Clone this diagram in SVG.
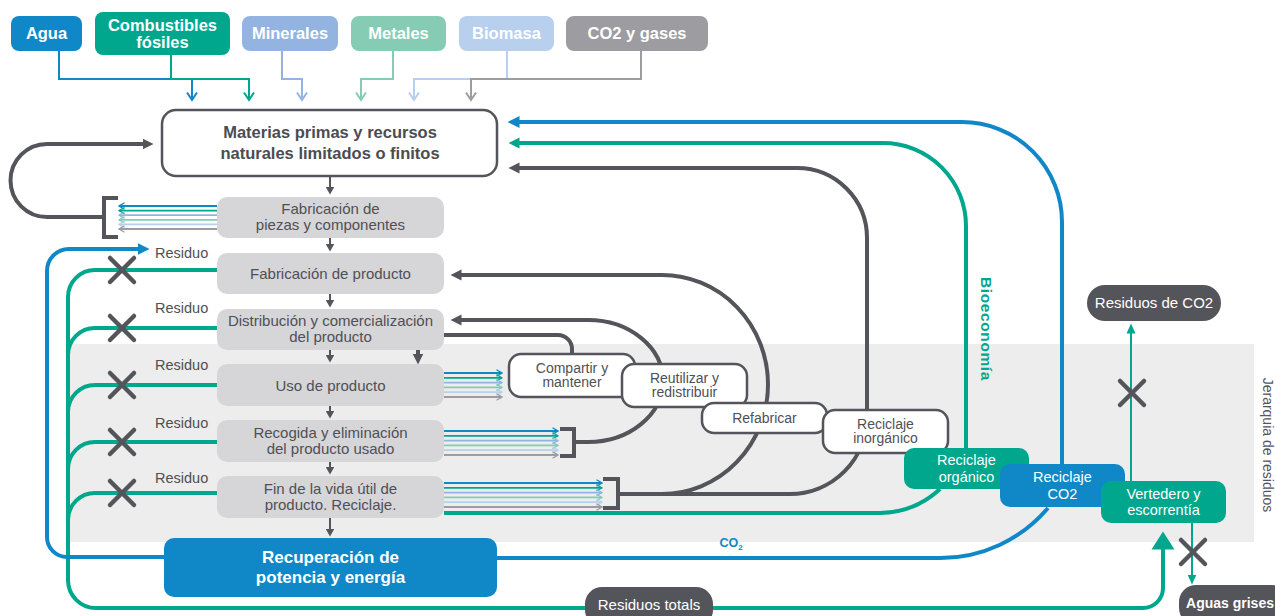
<svg xmlns="http://www.w3.org/2000/svg" width="1275" height="616" viewBox="0 0 1275 616">
<style>
text{font-family:"Liberation Sans",Arial,sans-serif;text-anchor:middle}
.tag{font-size:16.5px;font-weight:bold;fill:#fff}
.gb{fill:#D6D5D8}
.gt{font-size:15px;fill:#4F5056}
.wb{fill:#fff;stroke:#54555B;stroke-width:2.5}
.wt{font-size:14px;fill:#4F5056}
.ct{font-size:14.5px;fill:#fff}
.res{font-size:14.5px;fill:#4F5056;text-anchor:start}
.thk{fill:none;stroke-width:4}
.dk{stroke:#54555B}
.bl{stroke:#1088C8}
.gr{stroke:#00A78D}
.thin{fill:none;stroke-width:1.8}
.tg{fill:none;stroke-width:2}
.c1{stroke:#1088C8}.c2{stroke:#00A78D}.c3{stroke:#93B4E1}.c4{stroke:#86CCB5}.c5{stroke:#B8CFEE}.c6{stroke:#9D9CA0}
.xm{fill:none;stroke:#54555B;stroke-width:4.5;stroke-linecap:round}
</style>
<defs>
<marker id="ahD" viewBox="0 -6 12 12" markerWidth="12" markerHeight="12" refX="0.5" refY="0" orient="auto" markerUnits="userSpaceOnUse"><path d="M0,-5.5 L11,0 L0,5.5z" fill="#54555B"/></marker>
<marker id="ahB" viewBox="0 -6 12 12" markerWidth="12" markerHeight="12" refX="0.5" refY="0" orient="auto" markerUnits="userSpaceOnUse"><path d="M0,-6 L12,0 L0,6z" fill="#1088C8"/></marker>
<marker id="ahG" viewBox="0 -6 12 12" markerWidth="12" markerHeight="12" refX="0.5" refY="0" orient="auto" markerUnits="userSpaceOnUse"><path d="M0,-5.5 L11,0 L0,5.5z" fill="#00A78D"/></marker>
<marker id="ahDs" viewBox="0 -5 9 10" markerWidth="9" markerHeight="10" refX="0.5" refY="0" orient="auto" markerUnits="userSpaceOnUse"><path d="M0,-4.5 L8,0 L0,4.5z" fill="#54555B"/></marker>
<marker id="ahGL" viewBox="0 -12 19 24" markerWidth="19" markerHeight="24" refX="0.5" refY="0" orient="auto" markerUnits="userSpaceOnUse"><path d="M0,-11.5 L18,0 L0,11.5z" fill="#00A78D"/></marker>
<marker id="ahGs" viewBox="0 -5 11 10" markerWidth="11" markerHeight="10" refX="0.5" refY="0" orient="auto" markerUnits="userSpaceOnUse"><path d="M0,-4.5 L10,0 L0,4.5z" fill="#00A78D"/></marker>
<marker id="ch1" viewBox="-7 -4 8 8" markerWidth="8" markerHeight="8" refX="0" refY="0" orient="auto" markerUnits="userSpaceOnUse"><path d="M-5.5,-3.2 L0,0 L-5.5,3.2" fill="none" stroke="#1088C8" stroke-width="1.3"/></marker>
<marker id="ch2" viewBox="-7 -4 8 8" markerWidth="8" markerHeight="8" refX="0" refY="0" orient="auto" markerUnits="userSpaceOnUse"><path d="M-5.5,-3.2 L0,0 L-5.5,3.2" fill="none" stroke="#00A78D" stroke-width="1.3"/></marker>
<marker id="ch3" viewBox="-7 -4 8 8" markerWidth="8" markerHeight="8" refX="0" refY="0" orient="auto" markerUnits="userSpaceOnUse"><path d="M-5.5,-3.2 L0,0 L-5.5,3.2" fill="none" stroke="#93B4E1" stroke-width="1.3"/></marker>
<marker id="ch4" viewBox="-7 -4 8 8" markerWidth="8" markerHeight="8" refX="0" refY="0" orient="auto" markerUnits="userSpaceOnUse"><path d="M-5.5,-3.2 L0,0 L-5.5,3.2" fill="none" stroke="#86CCB5" stroke-width="1.3"/></marker>
<marker id="ch5" viewBox="-7 -4 8 8" markerWidth="8" markerHeight="8" refX="0" refY="0" orient="auto" markerUnits="userSpaceOnUse"><path d="M-5.5,-3.2 L0,0 L-5.5,3.2" fill="none" stroke="#B8CFEE" stroke-width="1.3"/></marker>
<marker id="ch6" viewBox="-7 -4 8 8" markerWidth="8" markerHeight="8" refX="0" refY="0" orient="auto" markerUnits="userSpaceOnUse"><path d="M-5.5,-3.2 L0,0 L-5.5,3.2" fill="none" stroke="#9D9CA0" stroke-width="1.3"/></marker>
<path id="xx" d="M-12,-12 L12,12 M12,-12 L-12,12"/>
</defs>

<rect id="band" x="68" y="344" width="1186" height="198" fill="#ECEDEC"/>

<g id="connectors">
  <path class="tg c1" d="M59,51 V79 H192 V99"/>
  <polyline class="tg c1" points="187,92.5 192,100 197,92.5"/>
  <path class="tg c2" d="M171,55 V79 H249 V99"/>
  <polyline class="tg c2" points="244,92.5 249,100 254,92.5"/>
  <path class="tg c3" d="M282,51 V79 H302 V99"/>
  <polyline class="tg c3" points="297,92.5 302,100 307,92.5"/>
  <path class="tg c4" d="M393,51 V79 H361 V99"/>
  <polyline class="tg c4" points="356,92.5 361,100 366,92.5"/>
  <path class="tg c5" d="M507,51 V79 H414 V99"/>
  <polyline class="tg c5" points="409,92.5 414,100 419,92.5"/>
  <path class="tg c6" d="M641,51 V79 H471 V99"/>
  <polyline class="tg c6" points="466,92.5 471,100 476,92.5"/>

  <g fill="none" stroke="#54555B" stroke-width="2" marker-end="url(#ahDs)">
    <path d="M330,177 V187"/>
    <path d="M330,238 V244"/>
    <path d="M330,294 V300"/>
    <path d="M330,350 V355"/>
    <path d="M330,406 V411"/>
    <path d="M330,462 V467"/>
    <path d="M330,518 V529"/>
  </g>

  <path class="thk gr" d="M217,270 H95 A27,27 0 0 0 68,297 V580 A28,28 0 0 0 96,608 H1143 A20,20 0 0 0 1163,588 V549" marker-end="url(#ahGL)"/>
  <path class="thk gr" d="M217,328 H95 A27,27 0 0 0 68,355"/>
  <path class="thk gr" d="M217,385 H95 A27,27 0 0 0 68,412"/>
  <path class="thk gr" d="M217,442 H95 A27,27 0 0 0 68,469"/>
  <path class="thk gr" d="M217,493 H95 A27,27 0 0 0 68,520"/>

  <path class="thk bl" d="M164,557 H67 A20,20 0 0 1 47,537 V271 A22,22 0 0 1 69,249 H138" marker-end="url(#ahB)"/>
  <path class="thk dk" d="M103,217 H47 A36.5,36.5 0 0 1 47,144 H143" marker-end="url(#ahD)"/>
  <path fill="none" stroke="#54555B" stroke-width="4" d="M118,198 H104 V237 H118"/>

  <path class="thin c1" d="M217,206 H119" marker-end="url(#ch1)"/>
  <path class="thin c2" d="M217,210.6 H119" marker-end="url(#ch2)"/>
  <path class="thin c3" d="M217,215.2 H119" marker-end="url(#ch3)"/>
  <path class="thin c4" d="M217,219.8 H119" marker-end="url(#ch4)"/>
  <path class="thin c5" d="M217,224.4 H119" marker-end="url(#ch5)"/>
  <path class="thin c6" d="M217,229 H119" marker-end="url(#ch6)"/>

  <path class="thin c1" d="M444,373 H502" marker-end="url(#ch1)"/>
  <path class="thin c2" d="M444,377.8 H502" marker-end="url(#ch2)"/>
  <path class="thin c3" d="M444,382.6 H502" marker-end="url(#ch3)"/>
  <path class="thin c4" d="M444,387.4 H502" marker-end="url(#ch4)"/>
  <path class="thin c5" d="M444,392.2 H502" marker-end="url(#ch5)"/>
  <path class="thin c6" d="M444,397 H502" marker-end="url(#ch6)"/>

  <path class="thin c1" d="M444,431 H558" marker-end="url(#ch1)"/>
  <path class="thin c2" d="M444,435.8 H558" marker-end="url(#ch2)"/>
  <path class="thin c3" d="M444,440.6 H558" marker-end="url(#ch3)"/>
  <path class="thin c4" d="M444,445.4 H558" marker-end="url(#ch4)"/>
  <path class="thin c5" d="M444,450.2 H558" marker-end="url(#ch5)"/>
  <path class="thin c6" d="M444,455 H558" marker-end="url(#ch6)"/>
  <path fill="none" stroke="#54555B" stroke-width="4" d="M560,429 H574 V456 H560"/>

  <path class="thin c1" d="M444,483 H602" marker-end="url(#ch1)"/>
  <path class="thin c2" d="M444,487.8 H602" marker-end="url(#ch2)"/>
  <path class="thin c3" d="M444,492.6 H602" marker-end="url(#ch3)"/>
  <path class="thin c4" d="M444,497.4 H602" marker-end="url(#ch4)"/>
  <path class="thin c5" d="M444,502.2 H602" marker-end="url(#ch5)"/>
  <path class="thin c6" d="M444,507 H602" marker-end="url(#ch6)"/>
  <path fill="none" stroke="#54555B" stroke-width="4" d="M603,479 H618 V508 H603"/>

  <path class="thk dk" d="M572,355 V349 A14,14 0 0 0 558,335 H434 A16,16 0 0 0 418,351 V354" marker-end="url(#ahD)"/>
  <path class="thk dk" d="M574,442 H588 A75,61 0 0 0 588,320 H461" marker-end="url(#ahD)"/>
  <path class="thk dk" d="M618,494 H790 A77,77 0 0 0 867,417 V238 A70,70 0 0 0 797,168 H519" marker-end="url(#ahD)"/>
  <path class="thk dk" d="M662,494 A106,109.5 0 0 0 662,275 H461" marker-end="url(#ahD)"/>

  <path class="thk gr" d="M444,513 H880 A90,90 0 0 0 940,489"/>
  <path class="thk gr" d="M966,448 V226 A83,83 0 0 0 883,143 H519" marker-end="url(#ahG)"/>

  <path class="thk bl" d="M497,558 H940 A141,141 0 0 0 1048,508"/>
  <path class="thk bl" d="M1062,464 V222 A100,100 0 0 0 962,122 H519" marker-end="url(#ahB)"/>

  <path fill="none" stroke="#00A78D" stroke-width="2" d="M1131,481 V333" marker-end="url(#ahGs)"/>
  <path fill="none" stroke="#00A78D" stroke-width="2" d="M1192,523 V575" marker-end="url(#ahGs)"/>

  <use href="#xx" class="xm" x="122" y="270"/>
  <use href="#xx" class="xm" x="122" y="328"/>
  <use href="#xx" class="xm" x="122" y="385"/>
  <use href="#xx" class="xm" x="122" y="442"/>
  <use href="#xx" class="xm" x="122" y="493"/>
  <use href="#xx" class="xm" x="1132" y="393"/>
  <use href="#xx" class="xm" x="1193" y="552"/>

  <text class="res" x="155" y="258">Residuo</text>
  <text class="res" x="155" y="313">Residuo</text>
  <text class="res" x="155" y="370">Residuo</text>
  <text class="res" x="155" y="428">Residuo</text>
  <text class="res" x="155" y="483">Residuo</text>
  <text x="731" y="547" font-size="12.5" font-weight="bold" fill="#1088C8">CO<tspan font-size="8" dy="3">2</tspan></text>
  <text transform="translate(987,329) rotate(90)" x="0" y="5.6" font-size="15.5" font-weight="bold" fill="#00A78D" letter-spacing="0.6">Bioeconomía</text>
</g>

<g id="tag-agua"><rect x="11" y="16" width="71" height="35" rx="8" fill="#1088C8"/><text class="tag" x="46.5" y="39.4">Agua</text></g>
<g id="tag-combustibles"><rect x="95" y="12" width="135" height="43" rx="8" fill="#00A78D"/><text class="tag" x="162.5" y="31.4">Combustibles</text><text class="tag" x="162.5" y="48.4">fósiles</text></g>
<g id="tag-minerales"><rect x="242" y="16" width="96" height="35" rx="8" fill="#93B4E1"/><text class="tag" x="290" y="39.4">Minerales</text></g>
<g id="tag-metales"><rect x="351" y="16" width="95" height="35" rx="8" fill="#86CCB5"/><text class="tag" x="398.5" y="39.4">Metales</text></g>
<g id="tag-biomasa"><rect x="459" y="16" width="95" height="35" rx="8" fill="#B8CFEE"/><text class="tag" x="506.5" y="39.4">Biomasa</text></g>
<g id="tag-co2"><rect x="566" y="16" width="142" height="35" rx="8" fill="#9D9CA0"/><text class="tag" x="637" y="39.4">CO2 y gases</text></g>

<g id="materias"><rect x="162" y="110" width="335" height="66" rx="14" fill="#fff" stroke="#54555B" stroke-width="2.5"/>
<text x="330" y="138" font-size="16.5" font-weight="bold" fill="#4B4C52">Materias primas y recursos</text>
<text x="330" y="159" font-size="16.5" font-weight="bold" fill="#4B4C52">naturales limitados o finitos</text></g>

<g id="piezas"><rect class="gb" x="217" y="197" width="227" height="41" rx="10"/><text class="gt" x="330.5" y="214.4">Fabricación de</text><text class="gt" x="330.5" y="230.4">piezas y componentes</text></g>
<g id="fab-producto"><rect class="gb" x="217" y="253" width="227" height="41" rx="10"/><text class="gt" x="330.5" y="278.6">Fabricación de producto</text></g>
<g id="distribucion"><rect class="gb" x="217" y="309" width="227" height="41" rx="10"/><text class="gt" x="330.5" y="326.4">Distribución y comercialización</text><text class="gt" x="330.5" y="342.4">del producto</text></g>
<g id="uso"><rect class="gb" x="217" y="364" width="227" height="42" rx="10"/><text class="gt" x="330.5" y="390.6">Uso de producto</text></g>
<g id="recogida"><rect class="gb" x="217" y="420" width="227" height="42" rx="10"/><text class="gt" x="330.5" y="438.4">Recogida y eliminación</text><text class="gt" x="330.5" y="454.4">del producto usado</text></g>
<g id="fin"><rect class="gb" x="217" y="476" width="227" height="42" rx="10"/><text class="gt" x="330.5" y="494.4">Fin de la vida útil de</text><text class="gt" x="330.5" y="510.4">producto. Reciclaje.</text></g>
<g id="recuperacion"><rect x="164" y="538" width="333" height="59" rx="10" fill="#1088C8"/><text x="330.5" y="563" font-size="17" font-weight="bold" fill="#fff">Recuperación de</text><text x="330.5" y="583" font-size="17" font-weight="bold" fill="#fff">potencia y energía</text></g>

<g id="compartir"><rect class="wb" x="509" y="354" width="126" height="43" rx="12"/><text class="wt" x="572" y="372.8">Compartir y</text><text class="wt" x="572" y="387.2">mantener</text></g>
<g id="reutilizar"><rect class="wb" x="622" y="364" width="125" height="43" rx="12"/><text class="wt" x="684.5" y="382.8">Reutilizar y</text><text class="wt" x="684.5" y="397.2">redistribuir</text></g>
<g id="refabricar"><rect class="wb" x="702" y="403" width="125" height="30" rx="12"/><text class="wt" x="764.5" y="423">Refabricar</text></g>
<g id="inorganico"><rect class="wb" x="823" y="410" width="125" height="43" rx="12"/><text class="wt" x="885.5" y="428.8">Reciclaje</text><text class="wt" x="885.5" y="443.2">inorgánico</text></g>
<g id="organico"><rect x="904" y="448" width="125" height="41" rx="10" fill="#00A78D"/><text class="ct" x="966.5" y="465.2">Reciclaje</text><text class="ct" x="966.5" y="482.2">orgánico</text></g>
<g id="reciclaje-co2"><rect x="1000" y="464" width="125" height="43" rx="10" fill="#1088C8"/><text class="ct" x="1062.5" y="482.2">Reciclaje</text><text class="ct" x="1062.5" y="499.2">CO2</text></g>
<g id="vertedero"><rect x="1101" y="481" width="125" height="42" rx="10" fill="#00A78D"/><text class="ct" x="1163.5" y="499.2">Vertedero y</text><text class="ct" x="1163.5" y="515.2">escorrentía</text></g>

<g id="residuos-co2"><rect x="1087" y="285" width="134" height="36" rx="18" fill="#54555B"/><text x="1154" y="308.4" font-size="15" fill="#fff">Residuos de CO2</text></g>
<g id="residuos-totals"><rect x="585" y="587" width="128" height="40" rx="17" fill="#54555B"/><text x="649" y="610.4" font-size="15" fill="#fff">Residuos totals</text></g>
<g id="aguas-grises"><rect x="1179" y="585" width="110" height="40" rx="17" fill="#54555B"/><text x="1230" y="608" font-size="14" font-weight="bold" fill="#fff">Aguas grises</text></g>

<text transform="translate(1268,445) rotate(90)" x="0" y="5" font-size="14" fill="#55565B">Jerarquia de residuos</text>
</svg>
